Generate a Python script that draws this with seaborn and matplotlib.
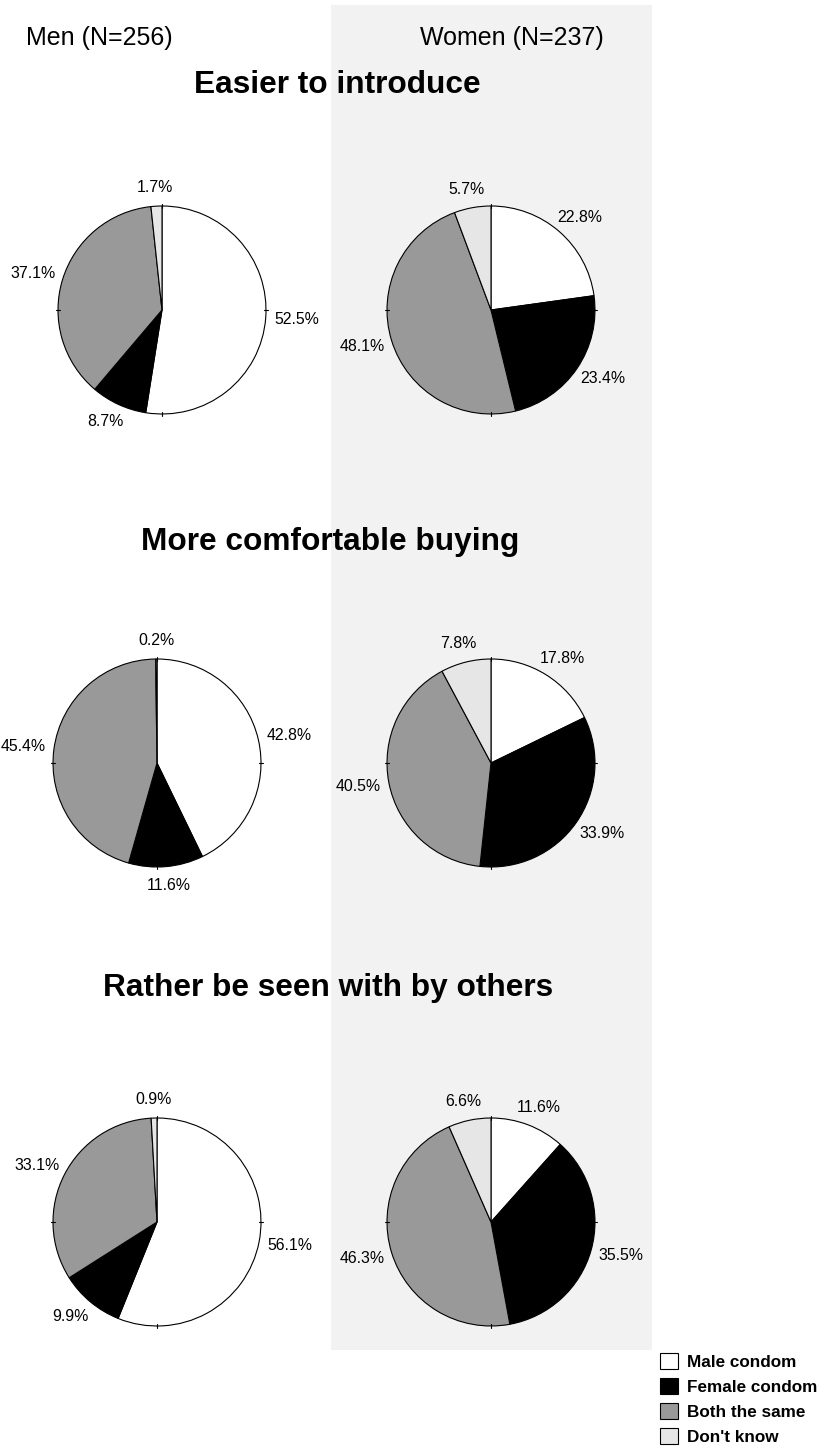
import matplotlib
matplotlib.use("Agg")
import matplotlib.pyplot as plt
import numpy as np
import seaborn as sns
from matplotlib.patches import Patch, Rectangle

sns.set_style("white")
plt.rcParams['font.family'] = ['Liberation Sans', 'DejaVu Sans']
plt.rcParams['text.color'] = 'black'

# Data
categories = ['Male condom', 'Female condom', 'Both the same', "Don't know"]
colors = ['#ffffff', '#000000', '#999999', '#e6e6e6']
questions = ['Easier to introduce', 'More comfortable buying', 'Rather be seen with by others']
groups = ['Men (N=256)', 'Women (N=237)']

men_vals = [
    [52.5, 8.7, 37.1, 1.7],
    [42.8, 11.6, 45.4, 0.2],
    [56.1, 9.9, 33.1, 0.9],
]
women_vals = [
    [22.8, 23.4, 48.1, 5.7],
    [17.8, 33.9, 40.5, 7.8],
    [11.6, 35.5, 46.3, 6.6],
]

W, H = 840, 1448
fig = plt.figure(figsize=(W / 100, H / 100), dpi=100)

# shaded women column
fig.patches.append(Rectangle((331 / W, 1 - 1350 / H), 321 / W, 1345 / H,
                             transform=fig.transFigure, facecolor='#f2f2f2',
                             edgecolor='none', zorder=-5))

fig.text(99 / W, 1 - 38 / H, groups[0], ha='center', va='center', fontsize=18)
fig.text(512 / W, 1 - 38 / H, groups[1], ha='center', va='center', fontsize=18)

title_pos = [(337, 85), (330, 542), (328, 988)]
men_centers = [(162, 310), (157, 763), (157, 1222)]
women_centers = [(491, 310), (491, 763), (491, 1222)]
radius = 104
half = radius * 1.25


def draw_pie(vals, center):
    cx, cy = center
    ax = fig.add_axes([(cx - half) / W, 1 - (cy + half) / H, 2 * half / W, 2 * half / H])
    wedges, _ = ax.pie(vals, colors=colors, startangle=90, counterclock=False,
                       wedgeprops=dict(edgecolor='black', linewidth=0.8))
    # labels sit on an ellipse around the pie (wider than tall)
    for w, v in zip(wedges, vals):
        ang = np.deg2rad((w.theta1 + w.theta2) / 2)
        ax.text(1.3 * np.cos(ang), 1.18 * np.sin(ang), f'{v:.1f}%',
                ha='center', va='center', fontsize=11.4, color='black')
    # small tick marks on the rim
    for dx, dy in [(0, 1), (1, 0), (0, -1), (-1, 0)]:
        ax.plot([dx * 0.98, dx * 1.02], [dy * 0.98, dy * 1.02], color='black', lw=0.8)
    ax.set_xlim(-1.25, 1.25)
    ax.set_ylim(-1.25, 1.25)
    ax.patch.set_alpha(0)


for i, q in enumerate(questions):
    tx, ty = title_pos[i]
    fig.text(tx / W, 1 - ty / H, q, ha='center', va='center', fontsize=22.8, fontweight='bold')
    draw_pie(men_vals[i], men_centers[i])
    draw_pie(women_vals[i], women_centers[i])

handles = [Patch(facecolor=c, edgecolor='black', linewidth=0.8) for c in colors]
fig.legend(handles, categories, loc='upper left', bbox_to_anchor=(660 / W, 1 - 1353 / H),
           frameon=False, prop=dict(weight='bold', size=12.3),
           handlelength=1.07, handleheight=1.07, handletextpad=0.5, labelspacing=0.48,
           borderaxespad=0, borderpad=0)

fig.savefig('out.png', dpi=100)
